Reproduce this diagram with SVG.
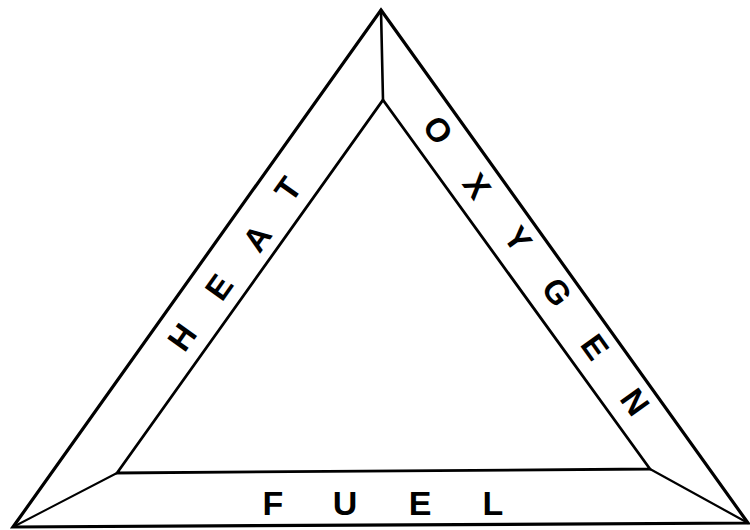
<svg xmlns="http://www.w3.org/2000/svg" width="750" height="530" viewBox="0 0 750 530">
<style>
.edge{fill:none;stroke:#000;stroke-linejoin:miter;stroke-linecap:round}
.lbl{font-family:"Liberation Sans",Arial,sans-serif;font-weight:bold;fill:#000;text-anchor:middle;dominant-baseline:central}
</style>
<rect width="750" height="530" fill="#fff"/>
<g id="connectors">
<polygon class="edge" points="381,10 748,523 13,527" stroke-width="3.2"/>
<polygon class="edge" points="383,100 650,469 117,473" stroke-width="2.8"/>
<line class="edge" x1="381" y1="10" x2="383" y2="100" stroke-width="2.6"/>
<line class="edge" x1="13" y1="527" x2="117" y2="473" stroke-width="2"/>
<line class="edge" x1="748" y1="523" x2="650" y2="469" stroke-width="2.2"/>
</g>
<g id="heat" class="lbl" font-size="33">
<text transform="translate(182,337) rotate(-54.6)">H</text>
<text transform="translate(219,287) rotate(-54.6)">E</text>
<text transform="translate(257,238) rotate(-54.6)">A</text>
<text transform="translate(288,189) rotate(-54.6)">T</text>
</g>
<g id="oxygen" class="lbl" font-size="33">
<text transform="translate(438,130) rotate(54.4)">O</text>
<text transform="translate(477,186) rotate(54.4)">X</text>
<text transform="translate(518,239) rotate(54.4)">Y</text>
<text transform="translate(557,292) rotate(54.4)">G</text>
<text transform="translate(595,347) rotate(54.4)">E</text>
<text transform="translate(635,402) rotate(54.4)">N</text>
</g>
<g id="fuel" class="lbl" font-size="34">
<text x="273" y="503">F</text>
<text x="345" y="503">U</text>
<text x="420" y="503">E</text>
<text x="493" y="503">L</text>
</g>
</svg>
